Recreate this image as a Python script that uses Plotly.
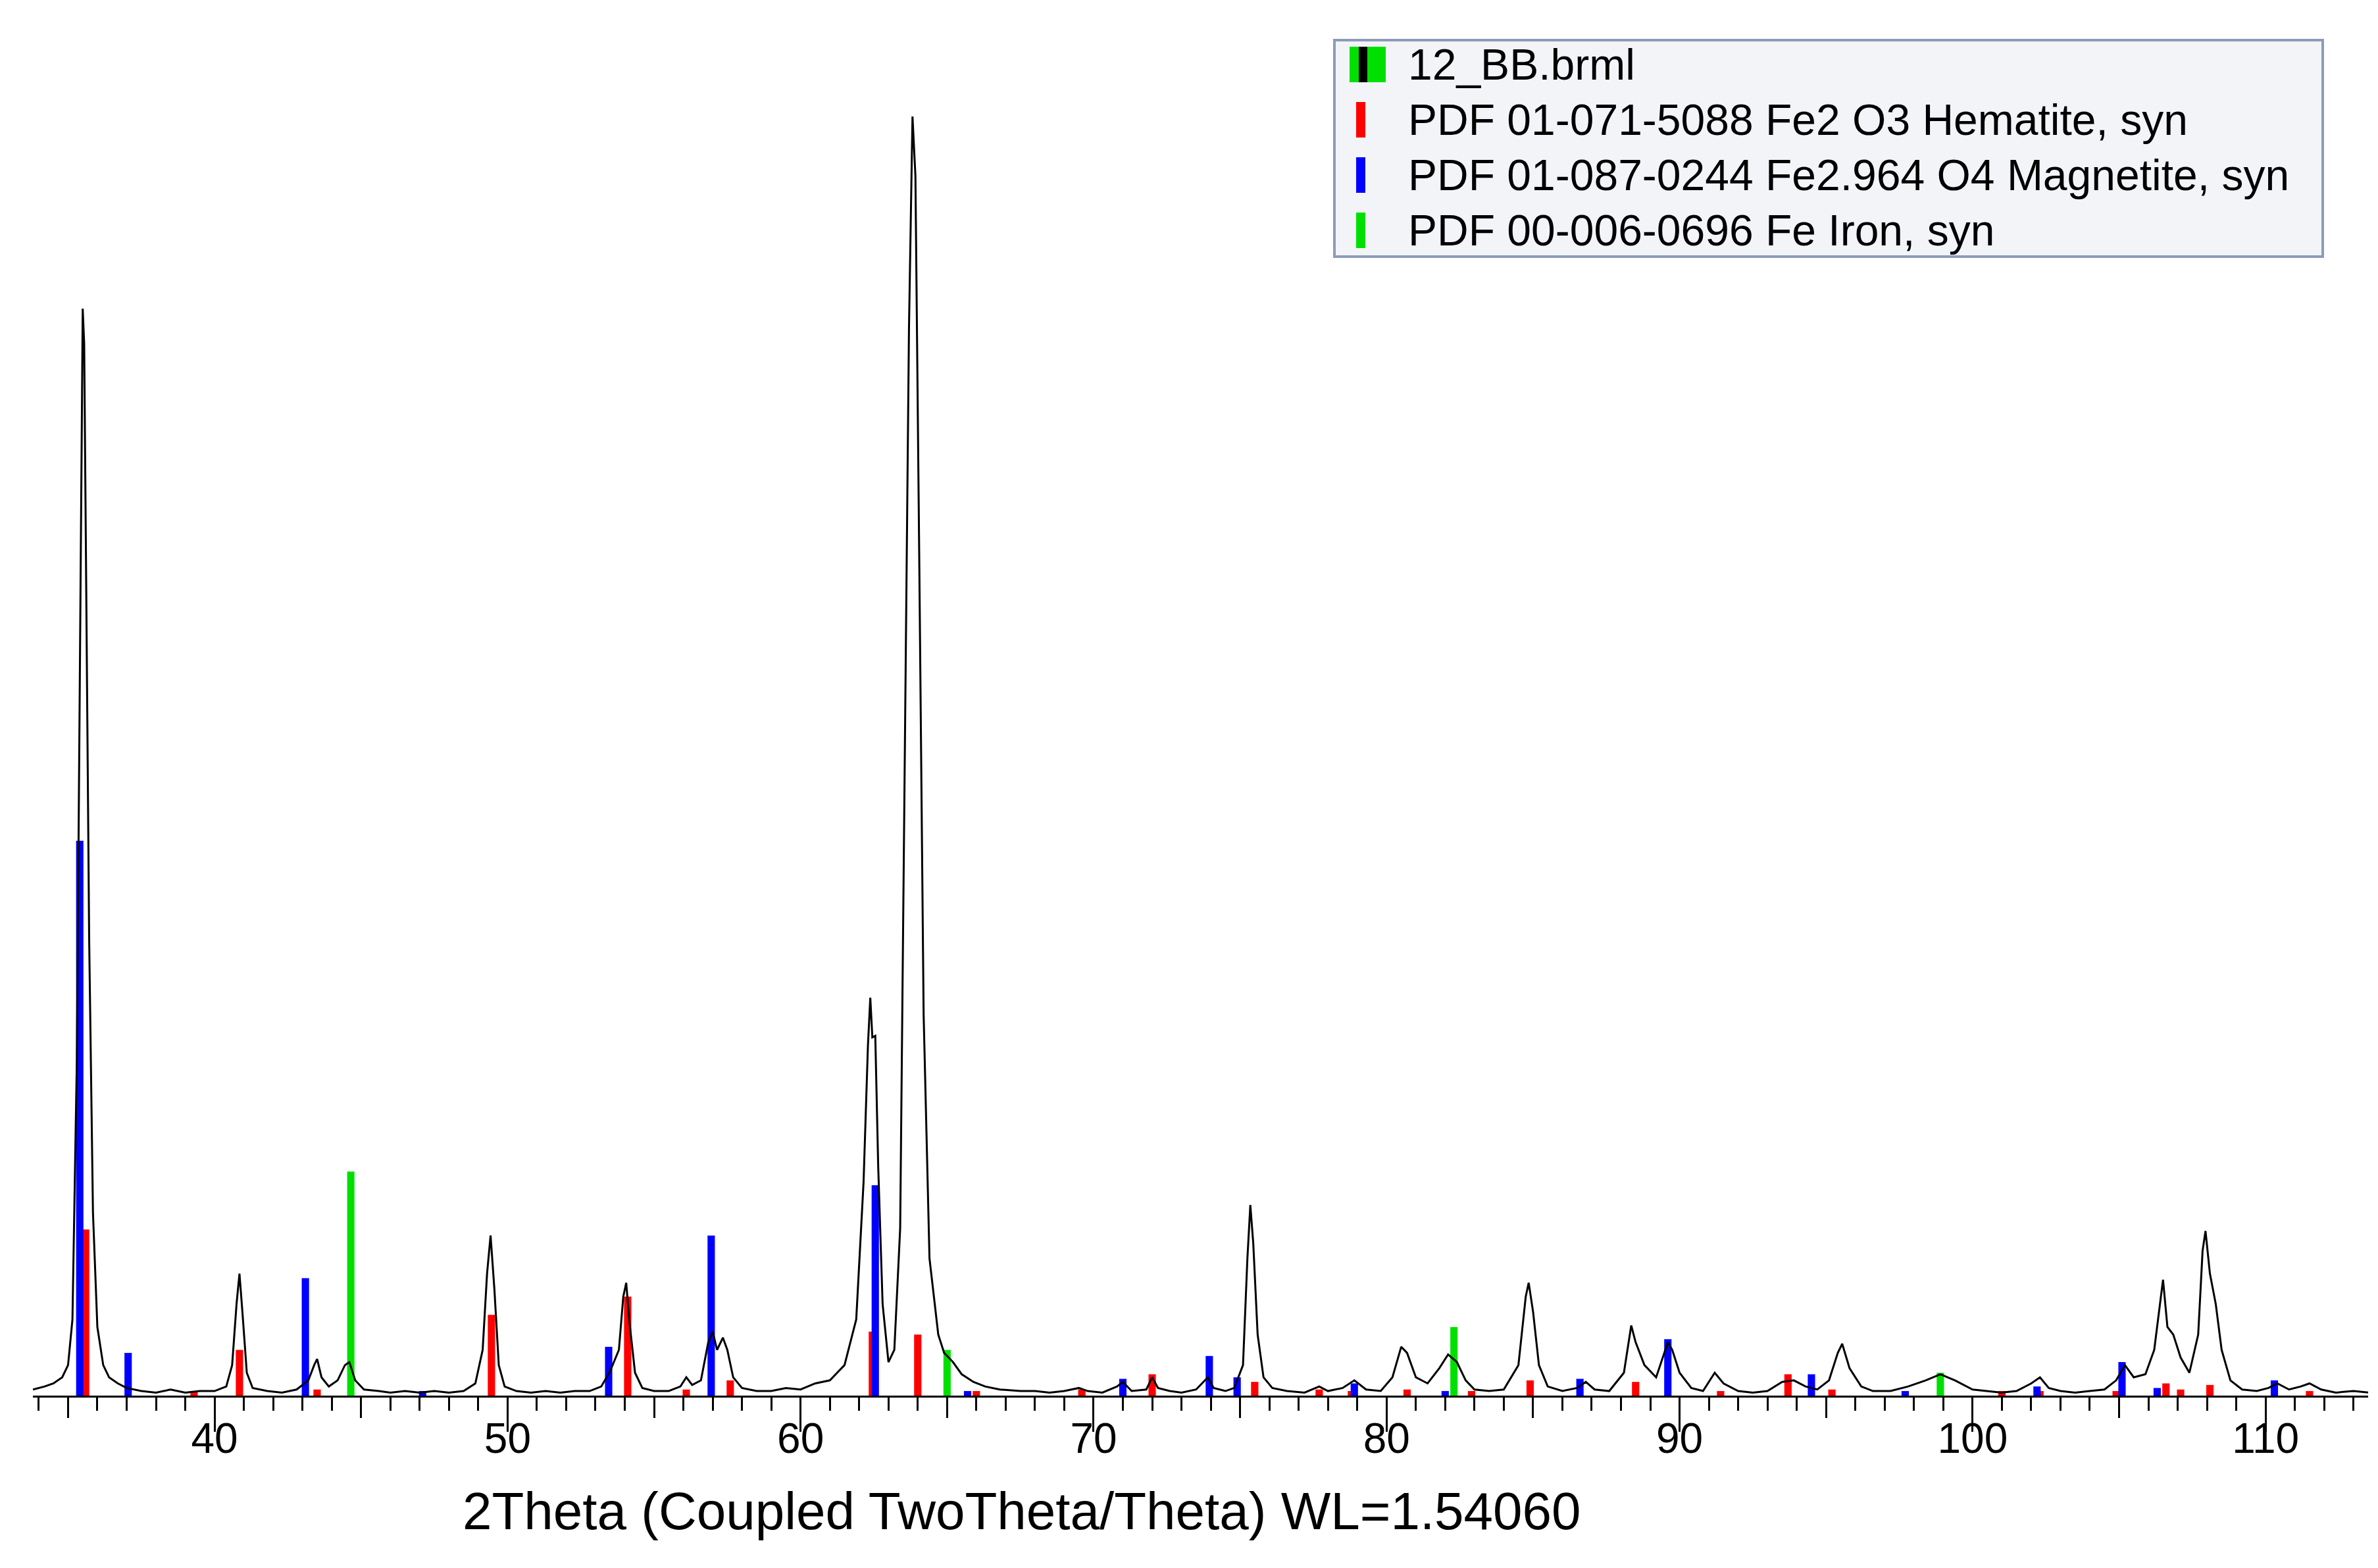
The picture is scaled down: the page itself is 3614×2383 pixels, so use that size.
import plotly.graph_objects as go

# measured pattern 12_BB.brml (intensity in arbitrary units, baseline = 0)
scan_2theta = [33.8, 34.2, 34.5, 34.8, 35.0, 35.15, 35.3, 35.4, 35.5, 35.55, 35.62, 35.72, 35.85, 36.0, 36.2, 36.4, 36.7, 37.0, 37.5, 38, 38.5, 39, 39.5, 40, 40.4, 40.6, 40.75, 40.85, 40.95, 41.1, 41.3, 41.8, 42.3, 42.8, 43.2, 43.4, 43.5, 43.65, 43.9, 44.2, 44.45, 44.6, 44.8, 45.1, 45.6, 46, 46.5, 47, 47.5, 48, 48.5, 48.9, 49.15, 49.3, 49.42, 49.55, 49.7, 49.9, 50.3, 50.8, 51.3, 51.8, 52.3, 52.8, 53.2, 53.5, 53.8, 53.95, 54.05, 54.15, 54.35, 54.6, 55, 55.5, 55.9, 56.1, 56.3, 56.6, 56.85, 57.0, 57.15, 57.35, 57.5, 57.7, 58.0, 58.5, 59, 59.5, 60, 60.5, 61, 61.5, 61.9, 62.15, 62.3, 62.38, 62.45, 62.55, 62.65, 62.8, 63.0, 63.2, 63.4, 63.55, 63.7, 63.82, 63.92, 64.05, 64.2, 64.4, 64.7, 64.9, 65.2, 65.5, 65.9, 66.3, 66.8, 67.5, 68, 68.5, 69, 69.5, 69.8, 70.3, 70.8, 71.0, 71.3, 71.8, 72.0, 72.2, 72.6, 73, 73.5, 73.9, 74.1, 74.5, 74.8, 75.1, 75.25, 75.35, 75.45, 75.6, 75.8, 76.1, 76.6, 77.2, 77.7, 78, 78.5, 78.9, 79.3, 79.8, 80.2, 80.5, 80.7, 81, 81.4, 81.8, 82.1, 82.4, 82.7, 83, 83.5, 84, 84.5, 84.75, 84.85, 85.0, 85.2, 85.5, 86, 86.5, 86.8, 87.1, 87.6, 88.1, 88.35, 88.5, 88.8, 89.2, 89.6, 89.75, 90.0, 90.4, 90.8, 91.2, 91.5, 92, 92.5, 93, 93.5, 93.9, 94.3, 94.7, 95.1, 95.4, 95.55, 95.8, 96.2, 96.6, 97.2, 97.8, 98.4, 98.9, 99.4, 100, 100.5, 101, 101.5, 102, 102.3, 102.6, 103, 103.5, 104, 104.5, 104.9, 105.2, 105.5, 105.9, 106.2, 106.4, 106.5, 106.65, 106.85, 107.1, 107.4, 107.7, 107.85, 107.95, 108.1, 108.3, 108.5, 108.8, 109.2, 109.7, 110.1, 110.4, 110.8, 111.2, 111.5, 111.9, 112.4, 113, 113.5]
scan_counts = [4, 6, 8, 12, 20, 50, 220, 450, 713, 690, 520, 300, 120, 45, 20, 12, 8, 5, 3, 2, 4, 2, 3, 3, 6, 20, 60, 80, 55, 15, 5, 3, 2, 4, 10, 20, 24, 12, 6, 10, 20, 22, 10, 4, 3, 2, 3, 2, 3, 2, 3, 8, 30, 80, 105, 70, 20, 6, 3, 2, 3, 2, 3, 3, 6, 16, 30, 65, 74, 50, 15, 5, 3, 3, 6, 12, 7, 10, 35, 42, 30, 38, 30, 12, 5, 3, 3, 5, 4, 8, 10, 20, 50, 140, 230, 261, 235, 236, 150, 60, 22, 30, 110, 400, 700, 839, 800, 550, 250, 90, 40, 28, 22, 14, 9, 6, 4, 3, 3, 2, 3, 5, 3, 2, 6, 9, 3, 4, 12, 5, 3, 2, 4, 12, 5, 3, 5, 20, 90, 125, 100, 40, 12, 5, 3, 2, 6, 3, 5, 10, 4, 3, 12, 32, 28, 12, 8, 18, 27, 22, 10, 4, 3, 4, 20, 65, 74, 55, 20, 6, 3, 5, 9, 4, 3, 15, 46, 35, 20, 12, 35, 30, 15, 5, 3, 15, 8, 3, 2, 3, 9, 10, 6, 4, 10, 28, 34, 18, 6, 3, 3, 6, 10, 14, 10, 4, 3, 2, 3, 8, 12, 5, 3, 2, 3, 4, 10, 20, 12, 14, 30, 60, 76, 45, 40, 25, 15, 40, 95, 108, 80, 60, 30, 10, 4, 3, 5, 8, 4, 6, 8, 4, 2, 3, 2]

# reference patterns (stick positions and heights)
hematite_2theta = [35.6, 39.3, 40.85, 43.5, 49.45, 54.1, 56.1, 57.6, 62.45, 64.0, 66.0, 69.6, 72.0, 75.5, 77.7, 78.8, 80.7, 82.9, 84.9, 88.5, 91.4, 93.7, 95.2, 101.0, 102.3, 104.9, 106.6, 107.1, 108.1, 111.5]
hematite_int = [109, 3, 30, 4, 53, 65, 4, 10, 42, 40, 3, 4, 14, 9, 4, 3, 4, 3, 10, 9, 3, 14, 4, 3, 3, 3, 8, 4, 7, 3]
magnetite_2theta = [35.4, 37.05, 43.1, 47.1, 53.45, 56.95, 62.55, 65.7, 71.0, 73.95, 74.9, 78.9, 82.0, 86.6, 89.6, 94.5, 97.7, 102.2, 105.1, 106.3, 110.3]
magnetite_int = [364, 28, 77, 3, 32, 105, 138, 3, 11, 26, 12, 8, 3, 11, 37, 14, 3, 6, 22, 5, 10]
iron_2theta = [44.65, 65.0, 82.3, 98.9]
iron_int = [147, 30, 45, 15]

legend_labels = ["12_BB.brml",
                 "PDF 01-071-5088 Fe2 O3 Hematite, syn",
                 "PDF 01-087-0244 Fe2.964 O4 Magnetite, syn",
                 "PDF 00-006-0696 Fe Iron, syn"]

RED, BLUE, GREEN = "#ff0000", "#0000ff", "#00e000"
x_range = [33.8, 113.5]

fig = go.Figure()
for xs, ys, col in [(hematite_2theta, hematite_int, RED),
                    (magnetite_2theta, magnetite_int, BLUE),
                    (iron_2theta, iron_int, GREEN)]:
    fig.add_trace(go.Bar(x=xs, y=ys, width=0.25, marker=dict(color=col, line_width=0),
                         showlegend=False))
fig.add_trace(go.Scatter(x=scan_2theta, y=scan_counts, mode="lines",
                         line=dict(color="black", width=3), showlegend=False))
# invisible trace to carry the 5-degree medium ticks
fig.add_trace(go.Scatter(x=x_range, y=[0, 0], xaxis="x2", mode="lines",
                         line=dict(width=0), showlegend=False, hoverinfo="skip"))

fig.update_layout(
    width=3614, height=2383,
    margin=dict(l=42, r=23, t=0, b=270),
    plot_bgcolor="white", paper_bgcolor="white",
    barmode="overlay",
    font=dict(family="Liberation Sans, Arial", color="black"),
    xaxis=dict(range=x_range, showgrid=False, zeroline=False,
               showline=True, linecolor="black", linewidth=3,
               ticks="outside", tickvals=[40, 50, 60, 70, 80, 90, 100, 110],
               ticklen=52, tickwidth=3, tickcolor="black",
               tickfont=dict(size=64), ticklabelstandoff=-45,
               minor=dict(dtick=1, tick0=0, ticks="outside", ticklen=20,
                          tickwidth=3, tickcolor="black")),
    xaxis2=dict(range=x_range, overlaying="x", anchor="y", side="bottom",
                showgrid=False, zeroline=False, showticklabels=False,
                ticks="outside", tickvals=[35, 45, 55, 65, 75, 85, 95, 105],
                ticklen=33, tickwidth=3, tickcolor="black"),
    yaxis=dict(range=[0, 912], visible=False),
)

# axis title placed as in the original (left of centre)
fig.add_annotation(text="2Theta (Coupled TwoTheta/Theta) WL=1.54060",
                   xref="paper", yref="paper", x=(1545 - 42) / (3614 - 65),
                   y=-(2288 - 2113) / 2113, xanchor="center", yanchor="middle",
                   showarrow=False, font=dict(size=80))

# legend box drawn by hand to reproduce the thin stick symbols
lx0, lx1, ly0, ly1 = 2020, 3522, 53, 382
W, H = 3614 - 42 - 23, 2113
def px(x):
    return (x - 42) / W
def py(y):
    return 1 - y / H
fig.add_shape(type="rect", xref="paper", yref="paper",
              x0=px(lx0), x1=px(lx1), y0=py(ly1), y1=py(ly0),
              fillcolor="#f2f4f8", line=dict(color="#8c9cb8", width=4))
row_y = [90, 174, 258, 342]
for i, (label, yy) in enumerate(zip(legend_labels, row_y)):
    if i == 0:
        fig.add_shape(type="rect", xref="paper", yref="paper",
                      x0=px(2043), x1=px(2098), y0=py(yy + 27), y1=py(yy - 27),
                      fillcolor=GREEN, line_width=0)
        fig.add_shape(type="rect", xref="paper", yref="paper",
                      x0=px(2057), x1=px(2070), y0=py(yy + 27), y1=py(yy - 27),
                      fillcolor="black", line_width=0)
    else:
        col = [RED, BLUE, GREEN][i - 1]
        fig.add_shape(type="rect", xref="paper", yref="paper",
                      x0=px(2053), x1=px(2067), y0=py(yy + 27), y1=py(yy - 27),
                      fillcolor=col, line_width=0)
    fig.add_annotation(text=label, xref="paper", yref="paper",
                       x=px(2130), y=py(yy), xanchor="left", yanchor="middle",
                       showarrow=False, font=dict(size=66))

fig.write_html("out.html")
